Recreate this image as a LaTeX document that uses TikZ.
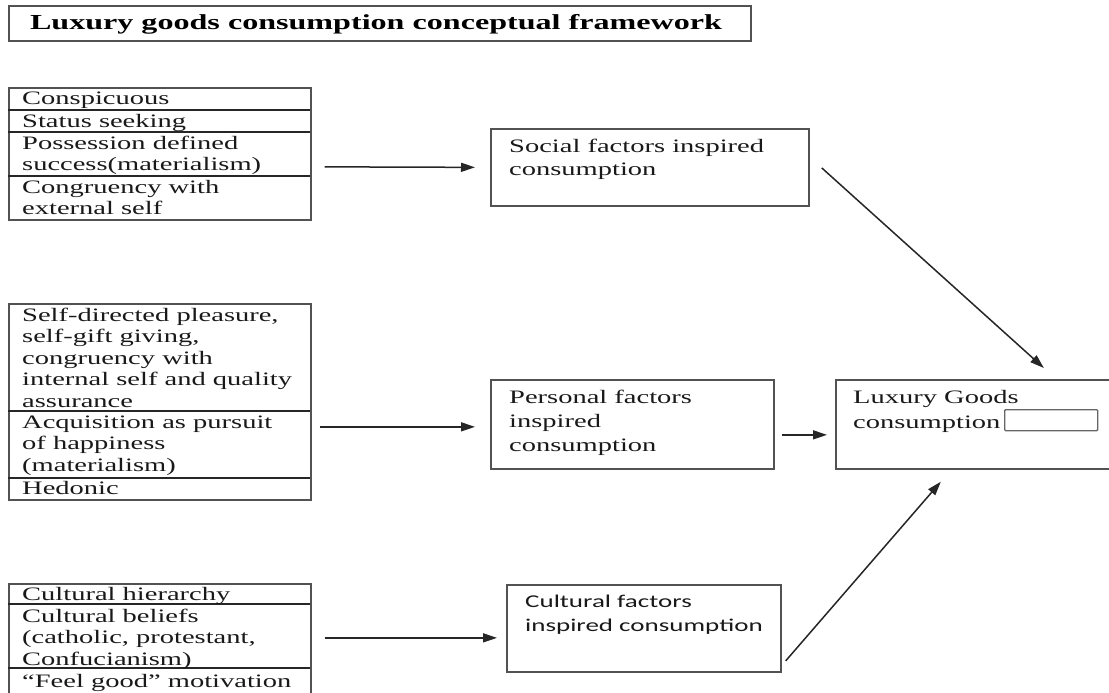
\documentclass[tikz,border=0pt]{standalone}
\usepackage{fontspec}
\setmainfont{Liberation Serif}[FakeStretch=1.5]
\newfontfamily\calib{Carlito}[FakeStretch=1.5]
\usetikzlibrary{arrows.meta,calc}
\begin{document}
\begin{tikzpicture}[x=1pt,y=-1pt,
  box/.style={draw=black!68, line width=1.7pt, anchor=north west, inner sep=0pt},
  txt/.style={anchor=base west, inner sep=0pt, text=black!90, font=\fontsize{19}{22}\selectfont},
  ctxt/.style={anchor=base west, inner sep=0pt, text=black!90, font=\calib\fontsize{18}{22}\selectfont},
  div/.style={draw=black!85, line width=1.1pt},
  arr/.style={draw=black!85, line width=1.5pt, -{Triangle[length=14pt,width=9pt]}}]
\useasboundingbox (0,0) rectangle (1109,693);
\clip (0,0) rectangle (1109,693);
% title
\node[box, minimum width=742pt, minimum height=35pt] (title) at (8,5) {};
\node[anchor=base, inner sep=0pt, font=\bfseries\fontsize{21.4}{24}\selectfont] (titletext) at (376,29.5) {Luxury goods consumption conceptual framework};
% left box 1
\node[box, minimum width=302pt, minimum height=132pt] (lb1) at (8,87) {};
\draw[div] (8,110) -- (310,110);
\draw[div] (8,132) -- (310,132);
\draw[div] (8,176) -- (310,176);
\node[txt] (l1a) at (22,105) {Conspicuous};
\node[txt] (l1b) at (22,127) {Status seeking};
\node[txt] (l1c) at (22,149) {Possession defined};
\node[txt] (l1d) at (22,170.5) {success(materialism)};
\node[txt] (l1e) at (22,193) {Congruency with};
\node[txt] (l1f) at (22,214.5) {external self};
% left box 2
\node[box, minimum width=302pt, minimum height=196pt] (lb2) at (8,303) {};
\draw[div] (8,411) -- (310,411);
\draw[div] (8,478) -- (310,478);
\node[txt] (l2a) at (22,321) {Self-directed pleasure,};
\node[txt] (l2b) at (22,342.5) {self-gift giving,};
\node[txt] (l2c) at (22,364) {congruency with};
\node[txt] (l2d) at (22,385.5) {internal self and quality};
\node[txt] (l2e) at (22,407) {assurance};
\node[txt] (l2f) at (22,428) {Acquisition as pursuit};
\node[txt] (l2g) at (22,449.5) {of happiness};
\node[txt] (l2h) at (22,471) {(materialism)};
\node[txt] (l2i) at (22,494) {Hedonic};
% left box 3
\node[box, minimum width=302pt, minimum height=117pt] (lb3) at (8,583) {};
\draw[div] (8,604) -- (310,604);
\draw[div] (8,668) -- (310,668);
\node[txt] (l3a) at (22,600) {Cultural hierarchy};
\node[txt] (l3b) at (22,622) {Cultural beliefs};
\node[txt] (l3c) at (22,643.5) {(catholic, protestant,};
\node[txt] (l3d) at (22,665) {Confucianism)};
\node[txt] (l3e) at (22,687) {“Feel good” motivation};
% middle boxes
\node[box, minimum width=318pt, minimum height=77pt] (sf) at (490,128) {};
\node[txt] (sfa) at (509,152) {Social factors inspired};
\node[txt] (sfb) at (509,175) {consumption};
\node[box, minimum width=283pt, minimum height=89pt] (pf) at (490,379) {};
\node[txt] (pfa) at (509,403) {Personal factors};
\node[txt] (pfb) at (509,427) {inspired};
\node[txt] (pfc) at (509,451) {consumption};
\node[box, minimum width=274pt, minimum height=87pt] (cf) at (506,584) {};
\node[ctxt] (cfa) at (525,607) {Cultural factors};
\node[ctxt] (cfb) at (525,631) {inspired consumption};
% luxury box
\node[box, minimum width=280pt, minimum height=89pt] (lux) at (835,379) {};
\node[txt] (luxa) at (853,403) {Luxury Goods};
\node[txt] (luxb) at (853,428) {consumption};
\node[box, draw=black!60, line width=1.4pt, rounded corners=1pt, minimum width=93pt, minimum height=21pt] (blank) at (1004,409) {};
% arrows
\draw[arr] ($(lb1.east)+(13,13)$) -- ($(sf.west)+(-15,0)$);
\draw[arr] ($(lb2.east)+(8,25)$) -- ($(pf.west)+(-15,2.5)$);
\draw[arr] ($(lb3.east)+(13,-4.5)$) -- ($(cf.west)+(-9,9.5)$);
\draw[arr] ($(pf.east)+(7,10.5)$) -- ($(lux.west)+(-8,10.5)$);
\draw[arr] ($(sf.east)+(12,0.5)$) -- ($(lux.north)+(68,-11)$);
\draw[arr] ($(cf.east)+(4,32.5)$) -- ($(lux.south)+(-35,12)$);
\end{tikzpicture}
\end{document}
